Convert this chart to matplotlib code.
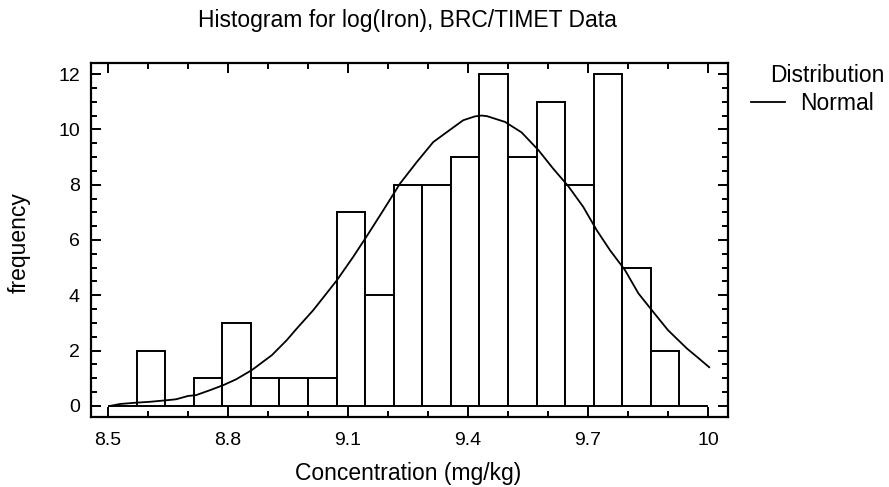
import matplotlib
matplotlib.use("Agg")
import matplotlib.pyplot as plt
from matplotlib.ticker import MultipleLocator, FixedLocator
import numpy as np

plt.rcParams['font.family'] = ['Liberation Sans', 'DejaVu Sans']

# Histogram data (21 bins from 8.5 to 10.0)
bin_start = 8.5
bin_end = 10.0
n_bins = 21
counts = [0, 2, 0, 1, 3, 1, 1, 1, 7, 4, 8, 8, 9, 12, 9, 11, 8, 12, 5, 2, 0]

# Fitted normal curve
curve_x = [8.505, 8.53, 8.572, 8.605, 8.6425, 8.67, 8.70, 8.72, 8.755, 8.788,
           8.82, 8.86, 8.91, 8.947, 8.972, 9.013, 9.072, 9.113, 9.151, 9.188,
           9.23, 9.272, 9.313, 9.347, 9.388, 9.4175, 9.434, 9.447, 9.4925, 9.534,
           9.576, 9.613, 9.651, 9.688, 9.722, 9.755, 9.7925, 9.826, 9.863, 9.9,
           9.947, 9.972, 10.003]
curve_y = [0.0, 0.07, 0.12, 0.15, 0.2, 0.24, 0.36, 0.39, 0.57, 0.75,
           0.96, 1.3, 1.84, 2.38, 2.8, 3.46, 4.54, 5.39, 6.23, 7.07,
           8.04, 8.82, 9.54, 9.9, 10.33, 10.47, 10.5, 10.48, 10.27, 9.89,
           9.25, 8.58, 7.94, 7.2, 6.35, 5.63, 4.91, 4.07, 3.4, 2.74,
           2.08, 1.78, 1.4]

x_ticks = [8.5, 8.8, 9.1, 9.4, 9.7, 10.0]
x_tick_labels = ['8.5', '8.8', '9.1', '9.4', '9.7', '10']
y_ticks = [0, 2, 4, 6, 8, 10, 12]

title = 'Histogram for log(Iron), BRC/TIMET Data'
x_label = 'Concentration (mg/kg)'
y_label = 'frequency'
legend_title = 'Distribution'
legend_entry = 'Normal'

W, H = 889, 487
fig = plt.figure(figsize=(W / 100, H / 100), dpi=100)
ax_l, ax_r, ax_t, ax_b = 91, 728, 63, 417
ax = fig.add_axes([ax_l / W, 1 - ax_b / H, (ax_r - ax_l) / W, (ax_b - ax_t) / H])

edges = np.linspace(bin_start, bin_end, n_bins + 1)
width = edges[1] - edges[0]
ax.bar(edges[:-1], counts, width=width, align='edge', facecolor='white',
       edgecolor='black', linewidth=1.4, zorder=2)
ax.plot(curve_x, curve_y, color='black', linewidth=1.3, zorder=3)

ax.set_xlim(8.4575, 10.05)
ax.set_ylim(-0.4, 12.4)
ax.xaxis.set_major_locator(FixedLocator(x_ticks))
ax.set_xticklabels(x_tick_labels)
ax.xaxis.set_minor_locator(MultipleLocator(0.1))
ax.yaxis.set_major_locator(FixedLocator(y_ticks))
ax.yaxis.set_minor_locator(MultipleLocator(0.5))

ax.tick_params(which='both', direction='in', top=True, right=True,
               width=1.4, labelsize=14, colors='black')
ax.tick_params(which='major', length=7.5)
ax.tick_params(which='minor', length=4)
ax.tick_params(axis='x', which='major', pad=10.5)
ax.tick_params(axis='y', which='major', pad=8)
for s in ax.spines.values():
    s.set_linewidth(1.6)

def px_ax_x(px):
    return (px - ax_l) / (ax_r - ax_l)

def px_ax_y(py):
    return (ax_b - py) / (ax_b - ax_t)

ax.set_xlabel(x_label, fontsize=16.5)
ax.xaxis.label.set_va('baseline')
ax.xaxis.set_label_coords(px_ax_x(408), px_ax_y(480))
ax.set_ylabel(y_label, fontsize=16.5)
ax.yaxis.label.set_va('center')
ax.yaxis.set_label_coords(px_ax_x(19), px_ax_y(243))

fig.text(407.5 / W, 1 - 26.7 / H, title, ha='center', va='baseline', fontsize=16.5)

# Legend
fig.text(827 / W, 1 - 82 / H, legend_title, ha='center', va='baseline', fontsize=16.5)
fig.add_artist(plt.Line2D([751 / W, 785 / W], [1 - 102 / H, 1 - 102 / H],
                          color='black', linewidth=1.3))
fig.text(800 / W, 1 - 110 / H, legend_entry, ha='left', va='baseline', fontsize=16.5)

fig.savefig('out.png', dpi=100)
